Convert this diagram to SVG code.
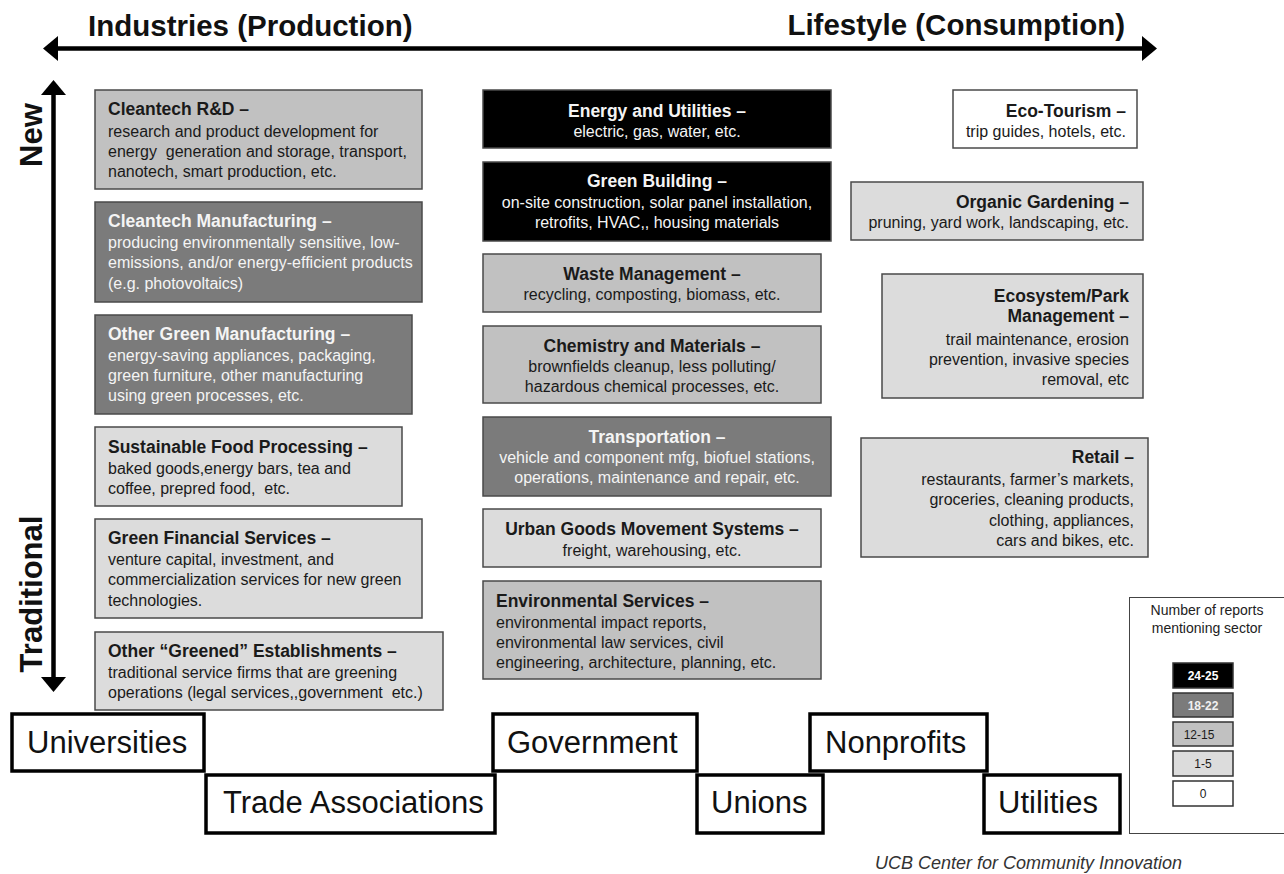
<svg xmlns="http://www.w3.org/2000/svg" width="1284" height="874" viewBox="0 0 1284 874">
  <style>
    text { font-family: "Liberation Sans", Arial, sans-serif; white-space: pre; fill: #1a1a1a; }
    .axis { font-size: 29.5px; font-weight: bold; fill: #111; }
    .side { font-size: 31px; font-weight: bold; fill: #111; }
    .t { font-size: 17.5px; font-weight: bold; }
    .b { font-size: 16px; }
    .inv text { fill: #f4f4f4; }
    .c text { text-anchor: middle; }
    .r text { text-anchor: end; }
    .box { stroke: #4a4a4a; stroke-width: 1.5; }
    .k { fill: #000; }
    .d { fill: #7b7b7b; }
    .m { fill: #c1c1c1; }
    .l { fill: #dcdcdc; }
    .w { fill: #fff; }
    .org rect { fill: #fff; stroke: #000; stroke-width: 3.5; }
    .org text { font-size: 31px; fill: #111; }
    .lg { font-size: 14px; text-anchor: middle; fill: #222; }
    .sw { stroke: #333; stroke-width: 1.5; }
    .swt { font-size: 12px; font-weight: bold; text-anchor: middle; }
    .credit { font-size: 18px; font-style: italic; fill: #333; }
    .conn line { stroke: #000; stroke-width: 4.5; }
  </style>
  <defs>
    <!-- solid triangular head; tip sits 8px beyond the line end -->
    <marker id="head" viewBox="0 0 15 25" refX="7" refY="12.5" markerWidth="15" markerHeight="25" markerUnits="userSpaceOnUse" orient="auto-start-reverse">
      <path d="M0,0 L15,12.5 L0,25 Z" fill="#000"/>
    </marker>
  </defs>

  <rect width="1284" height="874" fill="#fff"/>

  <!-- axes -->
  <g id="connectors" class="conn">
    <line x1="51" y1="48.5" x2="1149" y2="48.5" marker-start="url(#head)" marker-end="url(#head)"/>
    <line x1="53.5" y1="88" x2="53.5" y2="684" marker-start="url(#head)" marker-end="url(#head)"/>
  </g>

  <g id="axis-labels">
    <text class="axis" x="88" y="36">Industries (Production)</text>
    <text class="axis" x="1125" y="35" text-anchor="end">Lifestyle (Consumption)</text>
    <text class="side" transform="translate(42,135) rotate(-90)" text-anchor="middle">New</text>
    <text class="side" transform="translate(42,594) rotate(-90)" text-anchor="middle">Traditional</text>
  </g>

  <!-- production column -->
  <g id="cleantech-rd">
    <rect class="box m" x="95" y="90" width="327" height="99"/>
    <text class="t" x="108" y="115">Cleantech R&amp;D –</text>
    <text class="b" x="108" y="137">research and product development for</text>
    <text class="b" x="108" y="157">energy  generation and storage, transport,</text>
    <text class="b" x="108" y="177">nanotech, smart production, etc.</text>
  </g>
  <g id="cleantech-manufacturing" class="inv">
    <rect class="box d" x="95" y="202" width="327" height="100"/>
    <text class="t" x="108" y="227">Cleantech Manufacturing –</text>
    <text class="b" x="108" y="248">producing environmentally sensitive, low-</text>
    <text class="b" x="108" y="268">emissions, and/or energy-efficient products</text>
    <text class="b" x="108" y="289">(e.g. photovoltaics)</text>
  </g>
  <g id="other-green-manufacturing" class="inv">
    <rect class="box d" x="95" y="315" width="317" height="99"/>
    <text class="t" x="108" y="340">Other Green Manufacturing –</text>
    <text class="b" x="108" y="361">energy-saving appliances, packaging,</text>
    <text class="b" x="108" y="381">green furniture, other manufacturing</text>
    <text class="b" x="108" y="401">using green processes, etc.</text>
  </g>
  <g id="sustainable-food">
    <rect class="box l" x="95" y="427" width="307" height="79"/>
    <text class="t" x="108" y="453">Sustainable Food Processing –</text>
    <text class="b" x="108" y="474">baked goods,energy bars, tea and</text>
    <text class="b" x="108" y="494">coffee, prepred food,  etc.</text>
  </g>
  <g id="green-financial">
    <rect class="box l" x="95" y="519" width="327" height="99"/>
    <text class="t" x="108" y="544">Green Financial Services –</text>
    <text class="b" x="108" y="565">venture capital, investment, and</text>
    <text class="b" x="108" y="585">commercialization services for new green</text>
    <text class="b" x="108" y="606">technologies.</text>
  </g>
  <g id="greened-establishments">
    <rect class="box l" x="95" y="632" width="348" height="78"/>
    <text class="t" x="108" y="657">Other “Greened” Establishments –</text>
    <text class="b" x="108" y="678">traditional service firms that are greening</text>
    <text class="b" x="108" y="698">operations (legal services,,government  etc.)</text>
  </g>

  <!-- middle column -->
  <g id="energy-utilities" class="c inv">
    <rect class="box k" x="483" y="90" width="348" height="58"/>
    <text class="t" x="657" y="117">Energy and Utilities –</text>
    <text class="b" x="657" y="137">electric, gas, water, etc.</text>
  </g>
  <g id="green-building" class="c inv">
    <rect class="box k" x="483" y="162" width="348" height="79"/>
    <text class="t" x="657" y="187">Green Building –</text>
    <text class="b" x="657" y="208">on-site construction, solar panel installation,</text>
    <text class="b" x="657" y="228">retrofits, HVAC,, housing materials</text>
  </g>
  <g id="waste-management" class="c">
    <rect class="box m" x="483" y="254" width="338" height="58"/>
    <text class="t" x="652" y="280">Waste Management –</text>
    <text class="b" x="652" y="300">recycling, composting, biomass, etc.</text>
  </g>
  <g id="chemistry-materials" class="c">
    <rect class="box m" x="483" y="326" width="338" height="77"/>
    <text class="t" x="652" y="352">Chemistry and Materials –</text>
    <text class="b" x="652" y="372">brownfields cleanup, less polluting/</text>
    <text class="b" x="652" y="392">hazardous chemical processes, etc.</text>
  </g>
  <g id="transportation" class="c inv">
    <rect class="box d" x="483" y="417" width="348" height="79"/>
    <text class="t" x="657" y="443">Transportation –</text>
    <text class="b" x="657" y="463">vehicle and component mfg, biofuel stations,</text>
    <text class="b" x="657" y="483">operations, maintenance and repair, etc.</text>
  </g>
  <g id="urban-goods" class="c">
    <rect class="box l" x="483" y="509" width="338" height="58"/>
    <text class="t" x="652" y="535">Urban Goods Movement Systems –</text>
    <text class="b" x="652" y="556">freight, warehousing, etc.</text>
  </g>
  <g id="environmental-services">
    <rect class="box m" x="483" y="581" width="338" height="98"/>
    <text class="t" x="496" y="607">Environmental Services –</text>
    <text class="b" x="496" y="628">environmental impact reports,</text>
    <text class="b" x="496" y="648">environmental law services, civil</text>
    <text class="b" x="496" y="668">engineering, architecture, planning, etc.</text>
  </g>

  <!-- consumption column -->
  <g id="eco-tourism" class="r">
    <rect class="box w" x="953" y="90" width="184" height="58"/>
    <text class="t" x="1126" y="117">Eco-Tourism –</text>
    <text class="b" x="1126" y="137">trip guides, hotels, etc.</text>
  </g>
  <g id="organic-gardening" class="r">
    <rect class="box l" x="851" y="182" width="292" height="58"/>
    <text class="t" x="1129" y="208">Organic Gardening –</text>
    <text class="b" x="1129" y="228">pruning, yard work, landscaping, etc.</text>
  </g>
  <g id="ecosystem-park" class="r">
    <rect class="box l" x="882" y="274" width="261" height="124"/>
    <text class="t" x="1129" y="302">Ecosystem/Park</text>
    <text class="t" x="1129" y="322">Management –</text>
    <text class="b" x="1129" y="345">trail maintenance, erosion</text>
    <text class="b" x="1129" y="365">prevention, invasive species</text>
    <text class="b" x="1129" y="385">removal, etc</text>
  </g>
  <g id="retail" class="r">
    <rect class="box l" x="861" y="438" width="287" height="119"/>
    <text class="t" x="1134" y="463">Retail –</text>
    <text class="b" x="1134" y="485">restaurants, farmer’s markets,</text>
    <text class="b" x="1134" y="505">groceries, cleaning products,</text>
    <text class="b" x="1134" y="526">clothing, appliances,</text>
    <text class="b" x="1134" y="546">cars and bikes, etc.</text>
  </g>

  <!-- institutions -->
  <g id="universities" class="org">
    <rect x="12" y="714" width="192" height="57"/>
    <text x="27" y="753">Universities</text>
  </g>
  <g id="trade-associations" class="org">
    <rect x="206" y="775" width="289" height="58"/>
    <text x="223" y="813">Trade Associations</text>
  </g>
  <g id="government" class="org">
    <rect x="493" y="714" width="204" height="57"/>
    <text x="507" y="753">Government</text>
  </g>
  <g id="unions" class="org">
    <rect x="697" y="775" width="126" height="58"/>
    <text x="711" y="813">Unions</text>
  </g>
  <g id="nonprofits" class="org">
    <rect x="810" y="714" width="177" height="57"/>
    <text x="825" y="753">Nonprofits</text>
  </g>
  <g id="utilities" class="org">
    <rect x="984" y="775" width="136" height="58"/>
    <text x="998" y="813">Utilities</text>
  </g>

  <!-- legend -->
  <g id="legend">
    <rect x="1129.5" y="597.5" width="160" height="236" fill="#fff" stroke="#444" stroke-width="1"/>
    <text class="lg" x="1207" y="615">Number of reports</text>
    <text class="lg" x="1207" y="633">mentioning sector</text>
    <rect class="sw k" x="1173" y="663" width="60" height="25"/>
    <text class="swt" x="1203" y="680" style="fill:#fff">24-25</text>
    <rect class="sw d" x="1173" y="693" width="60" height="24"/>
    <text class="swt" x="1203" y="710" style="fill:#f0f0f0">18-22</text>
    <rect class="sw m" x="1173" y="722" width="60" height="24"/>
    <text class="swt" x="1199" y="739" style="font-weight:normal">12-15</text>
    <rect class="sw l" x="1173" y="751" width="60" height="25"/>
    <text class="swt" x="1203" y="768" style="font-weight:normal">1-5</text>
    <rect class="sw w" x="1173" y="781" width="60" height="25"/>
    <text class="swt" x="1203" y="798" style="font-weight:normal">0</text>
  </g>

  <text class="credit" x="875" y="869">UCB Center for Community Innovation</text>
</svg>
